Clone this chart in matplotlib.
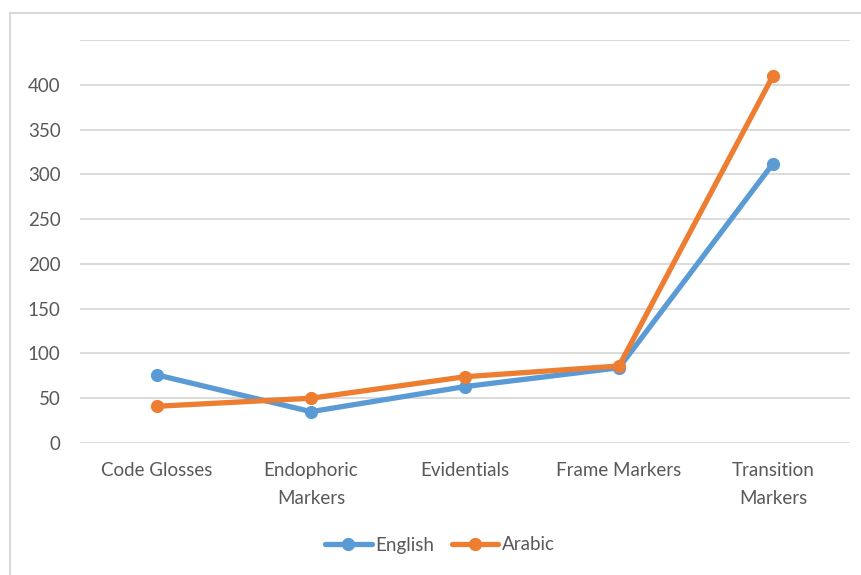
import matplotlib.pyplot as plt
from matplotlib.patches import Rectangle

categories = ['Code Glosses', 'Endophoric\nMarkers', 'Evidentials',
              'Frame Markers', 'Transition\nMarkers']
english = [76, 35, 63, 84, 312]
arabic = [41, 50, 74, 86, 410]

yticks = [0, 50, 100, 150, 200, 250, 300, 350, 400, 450]
ylabels = ['0', '50', '100', '150', '200', '250', '300', '350', '400', '']

plt.rcParams['font.family'] = ['Lato', 'DejaVu Sans']
text_color = '#595959'

fig = plt.figure(figsize=(8.61, 5.75), dpi=100)

# chart frame
fig.patches.append(Rectangle((10 / 861, -0.1), 1.2, 1 - 13 / 575 + 0.1,
                             transform=fig.transFigure, fill=False,
                             edgecolor='#D9D9D9', linewidth=1.5))

ax = fig.add_axes([80 / 861, 1 - 443 / 575, 770 / 861, 403 / 575])

x = list(range(len(categories)))
ax.plot(x, english, color='#5B9BD5', linewidth=3.8, marker='o',
        markersize=8.5, label='English', solid_capstyle='round', zorder=3)
ax.plot(x, arabic, color='#ED7D31', linewidth=3.8, marker='o',
        markersize=8.5, label='Arabic', solid_capstyle='round', zorder=4)

ax.set_xlim(-0.5, len(categories) - 0.5)
ax.set_ylim(0, 450)
ax.set_yticks(yticks)
ax.set_yticklabels(ylabels)
ax.set_xticks(x)
ax.set_xticklabels(categories, linespacing=1.75)

ax.grid(axis='y', color='#D9D9D9', linewidth=1.3)
ax.set_axisbelow(True)
for s in ax.spines.values():
    s.set_visible(False)
ax.tick_params(axis='both', length=0, labelsize=13.5, labelcolor=text_color)
ax.tick_params(axis='y', pad=14)
ax.tick_params(axis='x', pad=14)

fig.legend(loc='center', bbox_to_anchor=(440 / 861, 1 - 545 / 575), ncol=2,
           frameon=False, fontsize=13.5, handlelength=2.5, handletextpad=0.2,
           columnspacing=0.9, labelcolor=text_color)

fig.savefig('out.png', dpi=100)
